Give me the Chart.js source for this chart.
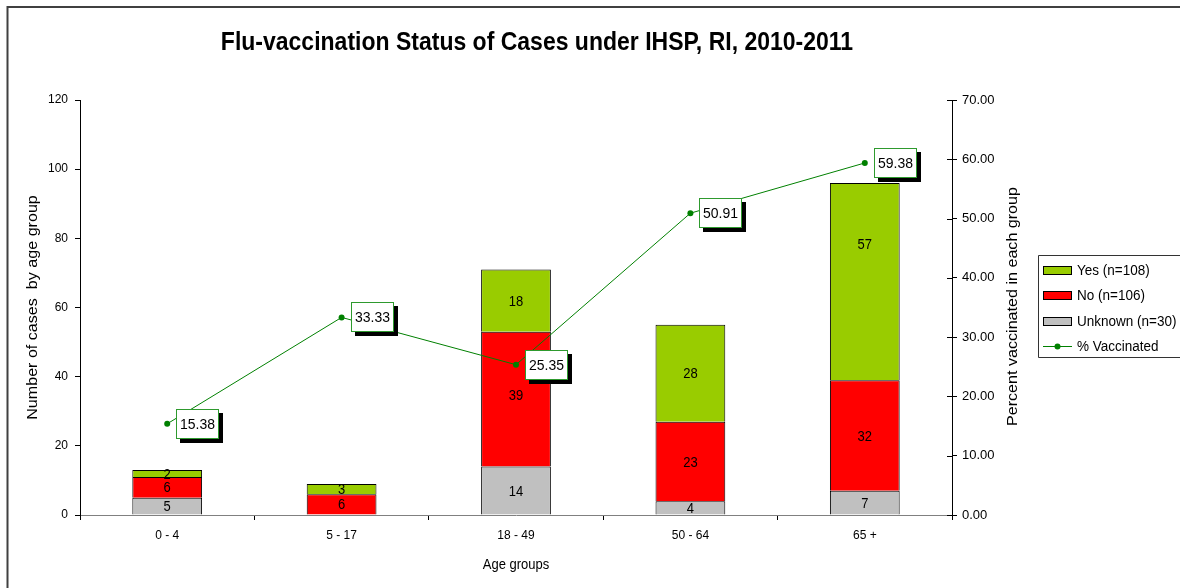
<!DOCTYPE html>
<html>
<head>
<meta charset="utf-8">
<script src="https://cdn.jsdelivr.net/npm/chart.js@4.4.1/dist/chart.umd.min.js"></script>
<style>
  html, body { margin: 0; padding: 0; background: #fff; }
  #wrap { position: relative; width: 1180px; height: 588px; }
</style>
</head>
<body>
<div id="wrap"><canvas id="fluChart" width="1180" height="588"></canvas></div>
<script>
// data
const ageGroups = ["0 - 4", "5 - 17", "18 - 49", "50 - 64", "65 +"];
const unknownCases = [5, 0, 14, 4, 7];
const noCases = [6, 6, 39, 23, 32];
const yesCases = [2, 3, 18, 28, 57];
const pctVaccinated = [15.38, 33.33, 25.35, 50.91, 59.38];
const leftTicks = [0, 20, 40, 60, 80, 100, 120];
const rightTicks = [0, 10, 20, 30, 40, 50, 60, 70];

const FONT = "'Liberation Sans', Arial, sans-serif";
// the original picture is a bit stretched vertically, so text is drawn taller than wide
const STRETCH = 1.15;

function stretchedText(ctx, txt, x, y, font, opts) {
    opts = opts || {};
    ctx.save();
    ctx.translate(x, y);
    if (opts.rotate) ctx.rotate(opts.rotate);
    ctx.scale(opts.sx || 1, opts.sy || 1);
    ctx.font = font;
    ctx.textAlign = opts.align || "center";
    ctx.textBaseline = opts.baseline || "middle";
    ctx.fillStyle = "#000";
    ctx.fillText(txt, 0, 0);
    ctx.restore();
}

// labels in the middle of bar segments and boxes next to the points
const labelPlugin = {
    id: "labels",
    afterDatasetsDraw(chart, args, opts) {
        const ctx = chart.ctx;
        chart.data.datasets.forEach((ds, i) => {
            if (ds.type === "line") return;
            const nudge = (opts.nudge && opts.nudge[ds.label]) || {};
            chart.getDatasetMeta(i).data.forEach((bar, j) => {
                if (!ds.data[j]) return;
                const cy = (bar.y + bar.base) / 2 + (nudge[j] || 0);
                stretchedText(ctx, String(ds.data[j]), bar.x, cy + 1, "13px " + FONT, { sy: STRETCH });
            });
        });
        const lineIdx = chart.data.datasets.findIndex(d => d.type === "line");
        const lineDs = chart.data.datasets[lineIdx];
        chart.getDatasetMeta(lineIdx).data.forEach((pt, j) => {
            const txt = lineDs.data[j].toFixed(2);
            ctx.save();
            ctx.font = "14px " + FONT;
            const w = Math.round(ctx.measureText(txt).width) + 8;
            const h = 30;
            const x = Math.round(pt.x) + 9;
            const y = Math.round(pt.y - h / 2);
            ctx.fillStyle = "#000";
            ctx.fillRect(x + 4, y + 4, w, h);
            ctx.fillStyle = "#fff";
            ctx.fillRect(x, y, w, h);
            ctx.strokeStyle = "#2e9a2e";
            ctx.lineWidth = 1;
            ctx.strokeRect(x + 0.5, y + 0.5, w - 1, h - 1);
            ctx.restore();
            stretchedText(ctx, txt, x + w / 2, y + h / 2 + 1, "14px " + FONT, { sy: 1.05 });
        });
    },
    afterDraw(chart) {
        const ctx = chart.ctx;
        const area = chart.chartArea;
        ctx.save();
        // outer frame
        ctx.strokeStyle = "#404040";
        ctx.lineWidth = 2;
        ctx.beginPath();
        ctx.moveTo(7.5, 588);
        ctx.lineTo(7.5, 7);
        ctx.lineTo(1180, 7);
        ctx.stroke();

        // inner half of the right axis tick marks
        const y1 = chart.scales.y1;
        ctx.lineWidth = 1;
        ctx.strokeStyle = "#000";
        rightTicks.forEach(v => {
            const py = Math.round(y1.getPixelForValue(v)) + 0.5;
            ctx.beginPath();
            ctx.moveTo(area.right - 5, py);
            ctx.lineTo(area.right, py);
            ctx.stroke();
        });

        // legend
        const lx = 1038.5, ly = 255.5;
        ctx.strokeStyle = "#333";
        ctx.beginPath();
        ctx.moveTo(1182, ly);
        ctx.lineTo(lx, ly);
        ctx.lineTo(lx, 357.5);
        ctx.lineTo(1182, 357.5);
        ctx.stroke();
        const entries = [
            { label: "Yes (n=108)", color: "#99cc00", kind: "bar" },
            { label: "No (n=106)", color: "#ff0000", kind: "bar" },
            { label: "Unknown (n=30)", color: "#c0c0c0", kind: "bar" },
            { label: "% Vaccinated", color: "#008000", kind: "line" }
        ];
        entries.forEach((e, k) => {
            const cy = 270 + k * 25.3;
            if (e.kind === "bar") {
                ctx.fillStyle = e.color;
                ctx.fillRect(1043.5, Math.round(cy) - 3.5, 28, 8);
                ctx.strokeStyle = "#000";
                ctx.strokeRect(1043.5, Math.round(cy) - 3.5, 28, 8);
            } else {
                ctx.strokeStyle = e.color;
                ctx.beginPath();
                ctx.moveTo(1043, Math.round(cy) + 0.5);
                ctx.lineTo(1072, Math.round(cy) + 0.5);
                ctx.stroke();
                ctx.fillStyle = e.color;
                ctx.beginPath();
                ctx.arc(1057.5, Math.round(cy) + 0.5, 3, 0, Math.PI * 2);
                ctx.fill();
            }
            stretchedText(ctx, e.label, 1077, cy + 1, "13.5px " + FONT, { align: "left", sy: 1.05 });
        });
        ctx.restore();

        // title
        stretchedText(ctx, "Flu-vaccination Status of Cases under IHSP, RI, 2010-2011",
            537, 50, "bold 23px " + FONT, { sy: 1.12, baseline: "alphabetic" });

        // axis titles
        const midY = (area.top + area.bottom) / 2;
        stretchedText(ctx, "Number of cases  by age group", 33, midY,
            "14px " + FONT, { rotate: -Math.PI / 2, sx: STRETCH });
        stretchedText(ctx, "Percent vaccinated in each group", 1013, midY - 1,
            "14px " + FONT, { rotate: -Math.PI / 2, sx: STRETCH });
        stretchedText(ctx, "Age groups", (area.left + area.right) / 2, 565,
            "13px " + FONT, { sy: STRETCH });
    }
};

new Chart(document.getElementById("fluChart").getContext("2d"), {
    type: "bar",
    data: {
        labels: ageGroups,
        datasets: [
            {
                label: "Unknown (n=30)",
                data: unknownCases,
                backgroundColor: "#c0c0c0",
                borderColor: "#000",
                borderWidth: 1,
                yAxisID: "y",
                order: 1
            },
            {
                label: "No (n=106)",
                data: noCases,
                backgroundColor: "#ff0000",
                borderColor: "#000",
                borderWidth: 1,
                yAxisID: "y",
                order: 1
            },
            {
                label: "Yes (n=108)",
                data: yesCases,
                backgroundColor: "#99cc00",
                borderColor: "#000",
                borderWidth: 1,
                yAxisID: "y",
                order: 1
            },
            {
                type: "line",
                label: "% Vaccinated",
                data: pctVaccinated,
                borderColor: "#008000",
                backgroundColor: "#008000",
                borderWidth: 1,
                pointRadius: 3,
                pointBackgroundColor: "#008000",
                pointBorderWidth: 0,
                tension: 0,
                fill: false,
                yAxisID: "y1",
                order: 0
            }
        ]
    },
    options: {
        responsive: false,
        animation: false,
        events: [],
        layout: { padding: { top: 100, right: 158, left: 0, bottom: 0 } },
        barPercentage: 0.4,
        categoryPercentage: 1,
        plugins: {
            legend: { display: false },
            tooltip: { enabled: false },
            // the 57 label sits higher than the segment centre in the original
            labels: { nudge: { "Yes (n=108)": { 4: -38 }, "No (n=106)": { 2: -4 } } }
        },
        scales: {
            x: {
                stacked: true,
                afterFit: (s) => { s.height = 73; },
                grid: {
                    offset: true,
                    drawOnChartArea: false,
                    tickLength: 5,
                    color: "#000"
                },
                border: { color: "#808080", width: 1 },
                ticks: { color: "#000", font: { size: 12, family: FONT }, padding: 8 }
            },
            y: {
                stacked: true,
                position: "left",
                min: 0,
                max: 120,
                afterFit: (s) => { s.width = 80; },
                afterBuildTicks: (s) => { s.ticks = leftTicks.map(v => ({ value: v })); },
                grid: { drawOnChartArea: false, tickLength: 5, color: "#000" },
                border: { color: "#000", width: 1 },
                ticks: { color: "#000", font: { size: 12, family: FONT }, padding: 7 }
            },
            y1: {
                position: "right",
                min: 0,
                max: 70,
                afterFit: (s) => { s.width = 70; },
                afterBuildTicks: (s) => { s.ticks = rightTicks.map(v => ({ value: v })); },
                grid: { drawOnChartArea: false, tickLength: 5, color: "#000" },
                border: { color: "#000", width: 1 },
                ticks: {
                    color: "#000",
                    font: { size: 13, family: FONT },
                    padding: 5,
                    callback: (v) => Number(v).toFixed(2)
                }
            }
        }
    },
    plugins: [labelPlugin]
});
</script>
</body>
</html>
